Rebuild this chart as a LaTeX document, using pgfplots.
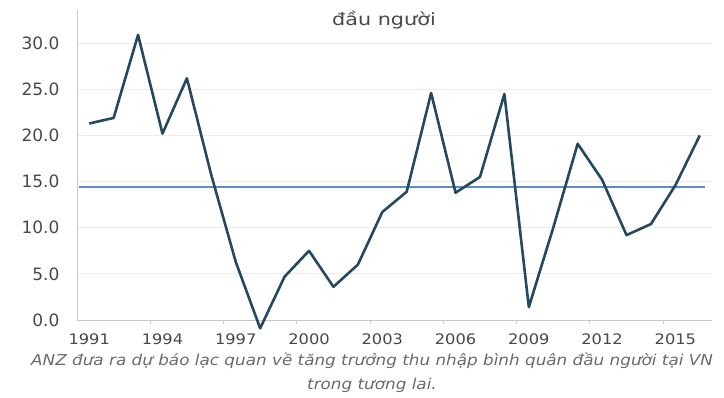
\documentclass[border=0pt]{standalone}
\usepackage{pgfplots}
\pgfplotsset{compat=1.18}
\usepackage{fontspec}
\setmainfont{DejaVu Sans}
\newfontfamily\widefont[FakeStretch=1.12]{DejaVu Sans}
\newfontfamily\widerfont[FakeStretch=1.22]{DejaVu Sans}
\definecolor{seriesline}{HTML}{24495E}
\definecolor{avgline}{HTML}{5A8AD0}
\definecolor{ticktext}{HTML}{484848}
\definecolor{captext}{HTML}{6A6A6A}
\definecolor{gridc}{HTML}{EBEBEB}
\definecolor{axisc}{HTML}{C8C8C8}

\pgfplotstableread{
year value
1991 21.3
1992 21.9
1993 30.9
1994 20.2
1995 26.2
1996 15.7
1997 6.3
1998 -0.9
1999 4.7
2000 7.5
2001 3.6
2002 6.0
2003 11.7
2004 13.9
2005 24.6
2006 13.8
2007 15.5
2008 24.5
2009 1.4
2010 10.0
2011 19.1
2012 15.2
2013 9.2
2014 10.4
2015 14.6
2016 20.0
}\growth

\begin{document}
\begin{tikzpicture}[x=1pt,y=1pt]
\path[use as bounding box] (0,0) rectangle (724,397);
\begin{axis}[
  at={(77pt,77pt)}, anchor=south west,
  scale only axis, width=635pt, height=310pt,
  xmin=1990.5, xmax=2016.5,
  ymin=0, ymax=33.6,
  clip=false,
  axis x line=bottom, axis y line=left,
  axis line style={axisc, line width=0.8pt, -},
  xtick={1991,1994,...,2015},
  xticklabel style={font=\widefont\fontsize{14.5}{14.5}\selectfont, text=ticktext, yshift=-10pt},
  minor xtick={1993.5,1996.5,...,2015.5},
  major tick length=0pt,
  minor tick length=4pt,
  minor tick style={axisc, line width=0.8pt},
  every tick/.style={axisc},
  xtick align=outside,
  ytick={0,5,...,30},
  yticklabel style={font=\fontsize{17}{17}\selectfont, text=ticktext, xshift=-14pt},
  yticklabel={\pgfmathprintnumber[fixed, fixed zerofill, precision=1]{\tick}},
  /pgf/number format/assume math mode=true,
  xticklabel={\pgfmathprintnumber[1000 sep={}]{\tick}},
  ymajorgrids,
  grid style={gridc, line width=0.8pt},
]
\addplot[avgline, line width=2pt] coordinates {(1990.6,14.4) (2016.2,14.4)};
\addplot[seriesline, line width=2.6pt, line join=round] table[x=year, y=value] {\growth};
\end{axis}
\node[font=\widerfont\fontsize{17}{17}\selectfont, text=ticktext] at (384,377) {đầu người};
\node[font=\widefont\fontsize{15}{24}\selectfont\itshape, text=captext, align=center] at (372,24)
  {ANZ đưa ra dự báo lạc quan về tăng trưởng thu nhập bình quân đầu người tại VN\\trong tương lai.};
\end{tikzpicture}
\end{document}
